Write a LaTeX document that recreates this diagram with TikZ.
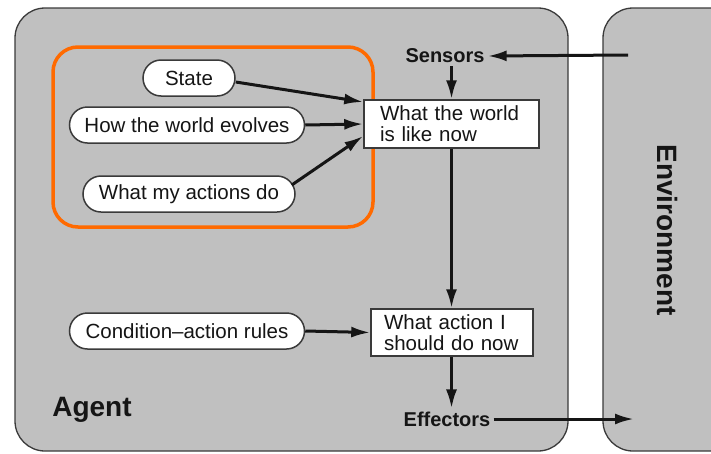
\documentclass[tikz,border=0pt]{standalone}
\usepackage{fontspec}
\setmainfont{Liberation Sans}
\usetikzlibrary{arrows.meta}
\definecolor{panel}{HTML}{C0C0C0}
\definecolor{edge}{HTML}{3A3A3A}
\definecolor{hl}{HTML}{FF6A00}
\definecolor{ink}{HTML}{151515}
\begin{document}
\begin{tikzpicture}[x=1pt,y=-1pt,
  txt/.style={font=\fontsize{20.5}{21}\selectfont, text=ink},
  oval/.style={txt, draw=edge, fill=white, line width=1.5pt, rounded corners=18pt,
               minimum height=36pt, inner sep=0pt},
  boxnode/.style={txt, draw=edge, fill=white, line width=1.5pt, align=left, inner ysep=2pt},
  tag/.style={font=\bfseries\fontsize{20}{21}\selectfont, text=ink, inner sep=3pt},
  big/.style={font=\bfseries\fontsize{28}{30}\selectfont, text=ink},
  arr/.style={line width=3pt, draw=ink, -{Latex[length=19pt,width=11pt]}},
  panelbox/.style={fill=panel, draw=edge, line width=1.3pt, rounded corners=30pt}
]
\useasboundingbox (0,0) rectangle (711,453);
\clip (0,0) rectangle (711,453);

% agent and environment panels
\path[panelbox] (15,8) rectangle (568,451);
\path[panelbox] (603,8) rectangle (745,451);

% highlighted model group
\draw[hl, line width=3.5pt, rounded corners=25pt] (53,47) rectangle (373,227);

% internal state inputs
\node[oval, minimum width=92pt]  (state) at (189,78)  {State};
\node[oval, minimum width=235pt] (evol)  at (187,125) {How the world evolves};
\node[oval, minimum width=212pt] (acts)  at (189,194) {What my actions do};
\node[oval, minimum width=235pt] (rules) at (187,331) {Condition--action rules};

% processing boxes
\node[boxnode, text width=143pt, inner xsep=16pt, minimum height=48pt] (world) at (451.5,124)
  {What the world\\is like now};
\node[boxnode, text width=136pt, inner xsep=13pt, minimum height=47pt] (act) at (452,332.5)
  {What action I\\should do now};

% labels
\node[tag] (sens) at (445,56)  {Sensors};
\node[tag] (eff)  at (447,419) {Effectors};
\node[big] (agent) at (92,410) {Agent};
\node[big, rotate=-90] (env) at (667,230) {Environment};

\coordinate (envin)  at (628,55);
\coordinate (envout) at (634,419);

% connectors
\draw[arr] (envin) -- (sens.east);
\draw[arr] (sens.south -| world.north) -- (world.north);
\draw[arr] ([yshift=-4pt]state.east) -- ([yshift=22pt]world.west);
\draw[arr] (evol.east) -- (world.west);
\draw[arr] ([xshift=-4pt,yshift=9pt]acts.east) -- ([yshift=-12pt]world.west);
\draw[arr] (world.south) -- (world.south |- act.north);
\draw[arr] (rules.east) -- (act.west);
\draw[arr] (act.south -| world.south) -- (eff.north -| world.south);
\draw[arr] (eff.east) -- (envout);
\end{tikzpicture}
\end{document}
